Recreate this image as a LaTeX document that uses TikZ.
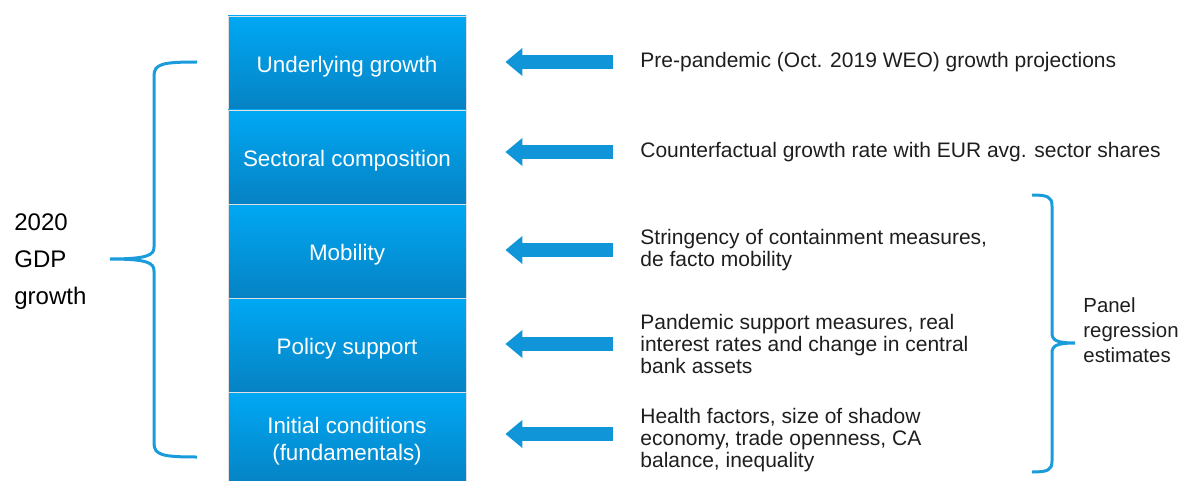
\documentclass[tikz,border=0pt]{standalone}
\usepackage{fontspec}
\setmainfont{Liberation Sans}
\usetikzlibrary{arrows.meta}

\definecolor{boxtop}{RGB}{0,168,244}
\definecolor{boxbot}{RGB}{6,130,195}
\definecolor{arrowblue}{RGB}{16,150,216}
\definecolor{braceblue}{RGB}{26,155,220}
\definecolor{txtgray}{RGB}{30,30,30}

\begin{document}
\begin{tikzpicture}[x=0.5pt,y=-0.5pt,
  layer/.style={rectangle, draw=black!12, line width=0.4pt, top color=boxtop, bottom color=boxbot,
    text=white, minimum width=119pt, minimum height=47pt, align=center, inner sep=0pt,
    text height=9.8pt, text depth=0pt, font=\fontsize{11.2}{13.5}\selectfont},
  source/.style={anchor=west, align=left, text=txtgray, inner sep=0pt, font=\fontsize{10.5}{11}\selectfont},
  fatarrow/.style={draw=arrowblue, line width=7pt, -{Triangle[width=13.5pt,length=8.5pt]},
    shorten <=13.5pt, shorten >=19.5pt},
  brace/.style={draw=braceblue, line width=1.5pt}]
  \useasboundingbox (0,0) rectangle (1178,481);

  % stack of growth components
  \node[layer] (b1) at (347,63) {Underlying growth};
  \node[layer] (b2) at (347,157) {Sectoral composition};
  \node[layer] (b3) at (347,251) {Mobility};
  \node[layer] (b4) at (347,345) {Policy support};
  \node[layer, text height=21.3pt] (b5) at (347,439) {Initial conditions\\(fundamentals)};

  % where each component comes from
  \node[source] (d1) at (640,62) {Pre-pandemic (Oct. 2019 WEO) growth projections};
  \node[source] (d2) at (640,152) {Counterfactual growth rate with EUR avg. sector shares};
  \node[source] (d3) at (640,250) {Stringency of containment measures,\\de facto mobility};
  \node[source] (d4) at (640,344) {Pandemic support measures, real\\interest rates and change in central\\bank assets};
  \node[source] (d5) at (640,440) {Health factors, size of shadow\\economy, trade openness, CA\\balance, inequality};

  \draw[fatarrow] (d1.west) -- (d1.west -| b1.east);
  \draw[fatarrow] (d2.west) -- (d2.west -| b2.east);
  \draw[fatarrow] (d3.west) -- (d3.west -| b3.east);
  \draw[fatarrow] (d4.west) -- (d4.west -| b4.east);
  \draw[fatarrow] ([yshift=3pt]d5.west) -- ([yshift=3pt]d5.west -| b5.east);

  \node[anchor=west, align=left, inner sep=0pt, font=\fontsize{12}{18.5}\selectfont] (gdp) at (14,262) {2020\\GDP\\growth};
  \node[anchor=west, align=left, inner sep=0pt, text=txtgray, font=\fontsize{10.2}{12.5}\selectfont] (panel) at (1083,330) {Panel\\regression\\estimates};

  % braces
  \draw[brace] (197,62) .. controls (162,62) and (154,64) .. (154,76) -- (154,247)
    .. controls (154,255) and (148,259) .. (110,259)
    .. controls (148,259) and (154,263) .. (154,271) -- (154,443)
    .. controls (154,455) and (162,457) .. (197,457);
  \draw[brace] (1032,195) .. controls (1048,195) and (1052,197) .. (1052,206) -- (1052,333)
    .. controls (1052,340) and (1056,343) .. (1075,343)
    .. controls (1056,343) and (1052,346) .. (1052,353) -- (1052,461)
    .. controls (1052,470) and (1048,472) .. (1032,472);
\end{tikzpicture}
\end{document}
